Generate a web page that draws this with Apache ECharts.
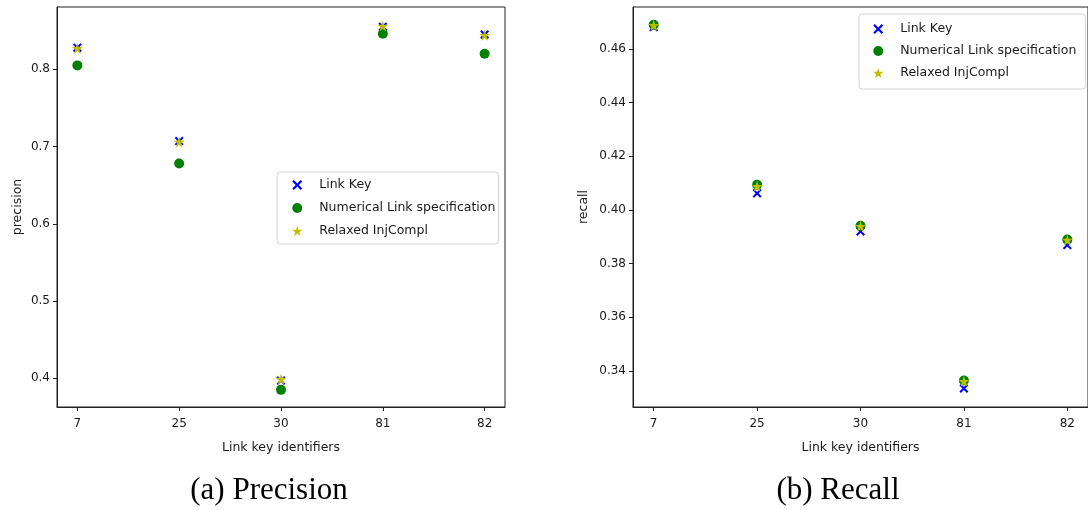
<!DOCTYPE html>
<html>
<head>
<meta charset="utf-8">
<script src="https://cdn.jsdelivr.net/npm/echarts@6/dist/echarts.min.js"></script>
<style>
html,body{margin:0;padding:0;background:#fff;}
#chart{width:1088px;height:510px;}
</style>
</head>
<body>
<div id="chart"></div>
<script>
// ---- data ----
const categories = ['7', '25', '30', '81', '82'];
const seriesNames = ['Link Key', 'Numerical Link specification', 'Relaxed InjCompl'];

const precisionLinkKey   = [0.828, 0.707, 0.397, 0.855, 0.845];
const precisionNumerical = [0.805, 0.678, 0.385, 0.846, 0.820];
const precisionRelaxed   = [0.827, 0.706, 0.399, 0.856, 0.844];

const recallLinkKey   = [0.4682, 0.4062, 0.3920, 0.3334, 0.3869];
const recallNumerical = [0.4691, 0.4094, 0.3941, 0.3364, 0.3890];
const recallRelaxed   = [0.4689, 0.4088, 0.3939, 0.3361, 0.3888];

const precisionTicks = [0.4, 0.5, 0.6, 0.7, 0.8];
const recallTicks = [0.34, 0.36, 0.38, 0.40, 0.42, 0.44, 0.46];

// ---- styling ----
const FONT = 'DejaVu Sans';
const TXT = '#1a1a1a';
const X_PATH = 'path://M0,1.6L1.6,0L5,3.4L8.4,0L10,1.6L6.6,5L10,8.4L8.4,10L5,6.6L1.6,10L0,8.4L3.4,5Z';
const STAR_PATH = 'path://M100,0L122.45,69.1L195.11,69.1L136.33,111.8L158.78,180.9L100,138.2L41.22,180.9L63.67,111.8L4.89,69.1L77.55,69.1Z';
const catIdx = [0, 1, 2, 3, 4];

function toPts(arr) { return arr.map((v, i) => [i, v]); }

function xAxisFor(gi) {
  return {
    type: 'value', gridIndex: gi, min: -0.2, max: 4.2,
    name: 'Link key identifiers', nameLocation: 'middle', nameGap: 34,
    nameTextStyle: { fontFamily: FONT, fontSize: 12.5, color: TXT },
    axisLine: { show: true, onZero: false, lineStyle: { color: '#222', width: 1 } },
    axisTick: { show: true, customValues: catIdx, length: 4, lineStyle: { color: '#222' } },
    axisLabel: { customValues: catIdx, formatter: v => categories[Math.round(v)], margin: 11,
                 fontFamily: FONT, fontSize: 12, color: TXT },
    splitLine: { show: false }
  };
}
function yAxisFor(gi, name, min, max, ticks, dec, gap) {
  return {
    type: 'value', gridIndex: gi, min: min, max: max,
    name: name, nameLocation: 'middle', nameGap: gap,
    nameTextStyle: { fontFamily: FONT, fontSize: 12.5, color: TXT },
    axisLine: { show: true, onZero: false, lineStyle: { color: '#222', width: 1 } },
    axisTick: { show: true, customValues: ticks, length: 4, lineStyle: { color: '#222' } },
    axisLabel: { customValues: ticks, formatter: v => v.toFixed(dec), margin: 7,
                 fontFamily: FONT, fontSize: 12, color: TXT },
    splitLine: { show: false }
  };
}
function seriesFor(gi, lk, num, rel) {
  return [
    { name: seriesNames[0], type: 'scatter', xAxisIndex: gi, yAxisIndex: gi, data: toPts(lk),
      symbol: X_PATH, symbolSize: 9, itemStyle: { color: '#0000ff', opacity: 1 } },
    { name: seriesNames[1], type: 'scatter', xAxisIndex: gi, yAxisIndex: gi, data: toPts(num),
      symbol: 'circle', symbolSize: 10, itemStyle: { color: '#008000', opacity: 1 } },
    { name: seriesNames[2], type: 'scatter', xAxisIndex: gi, yAxisIndex: gi, data: toPts(rel),
      symbol: STAR_PATH, symbolSize: 11, itemStyle: { color: '#bfbf00', opacity: 1 } }
  ];
}
function legendAt(left, top, gap, pad) {
  return {
    left: left, top: top, orient: 'vertical', selectedMode: false,
    data: seriesNames, itemWidth: 34, itemHeight: 10, itemGap: gap,
    padding: pad, borderColor: '#d4d4d4', borderWidth: 1, borderRadius: 3,
    backgroundColor: 'rgba(255,255,255,0.8)',
    textStyle: { fontFamily: FONT, fontSize: 12.5, color: TXT, lineHeight: 16 }
  };
}

const chart = echarts.init(document.getElementById('chart'), null, { renderer: 'canvas' });
chart.setOption({
  animation: false,
  backgroundColor: '#fff',
  grid: [
    { left: 57, top: 7, width: 448, height: 400, show: true, borderColor: '#222', borderWidth: 1, backgroundColor: 'transparent' },
    { left: 633, top: 7, width: 458, height: 400, show: true, borderColor: '#222', borderWidth: 1, backgroundColor: 'transparent' }
  ],
  xAxis: [xAxisFor(0), xAxisFor(1)],
  yAxis: [
    yAxisFor(0, 'precision', 0.3628, 0.8806, precisionTicks, 1, 33),
    yAxisFor(1, 'recall', 0.3265, 0.4757, recallTicks, 2, 43)
  ],
  legend: [
    legendAt(277, 172, 7, [5, 3, 5, 15]),
    legendAt(859, 14, 6, [7, 9, 8, 14])
  ],
  series: [].concat(
    seriesFor(0, precisionLinkKey, precisionNumerical, precisionRelaxed),
    seriesFor(1, recallLinkKey, recallNumerical, recallRelaxed)
  ),
  graphic: [
    { type: 'text', x: 269, y: 491, style: { text: '(a) Precision',
      font: '31px "Liberation Serif"', fill: '#000', align: 'center', verticalAlign: 'middle' } },
    { type: 'text', x: 838, y: 491, style: { text: '(b) Recall',
      font: '31px "Liberation Serif"', fill: '#000', align: 'center', verticalAlign: 'middle' } }
  ]
});
</script>
</body>
</html>
